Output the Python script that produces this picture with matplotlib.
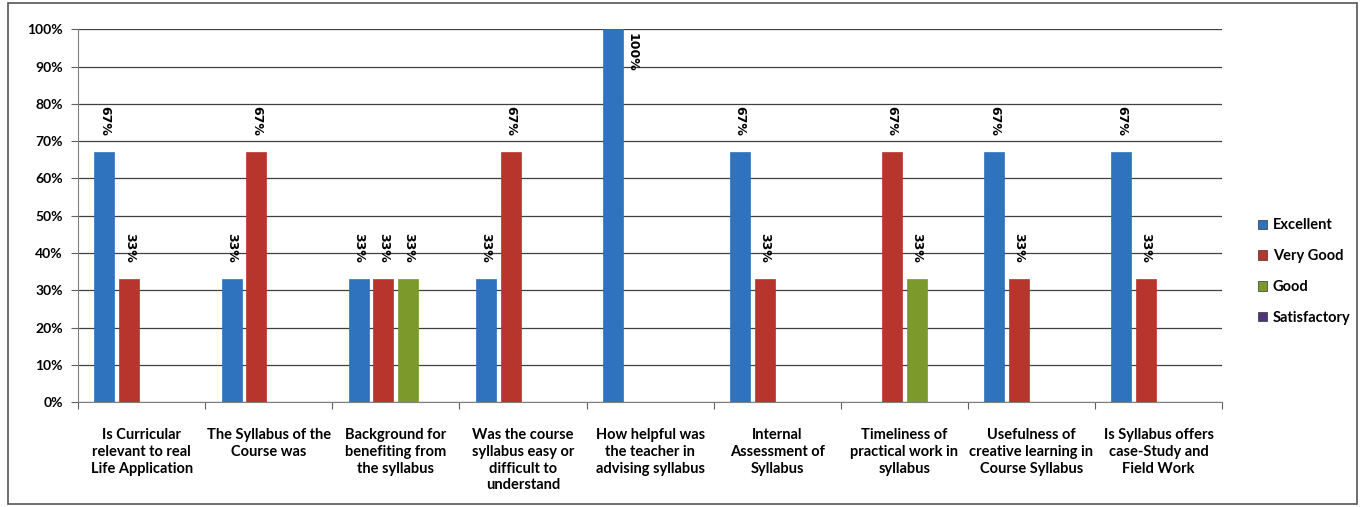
import numpy as np
import matplotlib
matplotlib.use('Agg')
import matplotlib.pyplot as plt
from matplotlib.patches import Rectangle, Patch

# Data --------------------------------------------------------------------
categories = [
    'Is Curricular\nrelevant to real\nLife Application',
    'The Syllabus of the\nCourse was',
    'Background for\nbenefiting from\nthe syllabus',
    'Was the course\nsyllabus easy or\ndifficult to\nunderstand',
    'How helpful was\nthe teacher in\nadvising syllabus',
    'Internal\nAssessment of\nSyllabus',
    'Timeliness of\npractical work in\nsyllabus',
    'Usefulness of\ncreative learning in\nCourse Syllabus',
    'Is Syllabus offers\ncase-Study and\nField Work',
]
excellent = [67, 33, 33, 33, 100, 67, 0, 67, 67]
very_good = [33, 67, 33, 67, 0, 33, 67, 33, 33]
good = [0, 0, 33, 0, 0, 0, 33, 0, 0]
satisfactory = [0, 0, 0, 0, 0, 0, 0, 0, 0]

series_names = ['Excellent', 'Very Good', 'Good', 'Satisfactory']
series_vals = [excellent, very_good, good, satisfactory]
colors = ['#2f72bd', '#b8352d', '#7b9a2b', '#4e3577']

plt.rcParams['font.family'] = ['Lato', 'DejaVu Sans']

fig = plt.figure(figsize=(13.62, 5.07), dpi=100)
ax = fig.add_axes([0.0573, 0.207, 0.84, 0.735])

x = np.arange(len(categories))
width = 0.157
step = 0.195
offsets = (np.arange(4) - 1.5) * step

for i, (name, vals, col) in enumerate(zip(series_names, series_vals, colors)):
    vals = np.array(vals, dtype=float) / 100
    pos = x + offsets[i]
    mask = vals > 0
    if mask.any():
        ax.bar(pos[mask], vals[mask], width=width, color=col, edgecolor=col,
               linewidth=0.5, zorder=3)
    for p, v in zip(pos[mask], vals[mask]):
        if v >= 0.95:
            ax.text(p + width * 0.65, v - 0.01, f'{v*100:.0f}%', rotation=270,
                    ha='left', va='top', fontsize=9, family='DejaVu Sans',
                    fontweight='bold', zorder=4)
        else:
            ax.text(p, v + 0.045, f'{v*100:.0f}%', rotation=270,
                    ha='center', va='bottom', fontsize=9, family='DejaVu Sans',
                    fontweight='bold', zorder=4)

ax.set_ylim(0, 1.0)
ax.set_xlim(-0.5, len(categories) - 0.5)
ticks = np.arange(0, 1.01, 0.1)
ax.set_yticks(ticks)
ax.set_yticklabels([f'{int(round(t*100))}%' for t in ticks],
                   fontsize=10, fontweight='bold')
ax.yaxis.grid(True, color='#404040', linewidth=0.9, zorder=0)
ax.set_axisbelow(True)

ax.set_xticks(np.arange(len(categories) + 1) - 0.5)
ax.set_xticklabels([''] * (len(categories) + 1))
ax.tick_params(axis='x', length=5, color='#606060')
ax.tick_params(axis='y', length=5, color='#606060', pad=6)
for xi, lab in zip(x, categories):
    ax.text(xi, -0.07, lab, ha='center', va='top', fontsize=10.5,
            fontweight='bold', linespacing=1.25)

for side in ['top', 'right']:
    ax.spines[side].set_visible(False)
ax.spines['left'].set_color('#808080')
ax.spines['bottom'].set_color('#808080')

handles = [Patch(facecolor=c, edgecolor='#333333', linewidth=0.5) for c in colors]
ax.legend(handles, series_names, loc='center left', bbox_to_anchor=(1.02, 0.35),
          frameon=False, prop={'weight': 'bold', 'size': 10.5},
          handlelength=0.6, handleheight=0.6, labelspacing=1.15,
          handletextpad=0.4)

# outer chart border
fig.patches.append(Rectangle((0.006, 0.005), 0.99, 0.99, transform=fig.transFigure,
                             fill=False, edgecolor='#555555', linewidth=1.2))

fig.savefig('out.png', dpi=100)
